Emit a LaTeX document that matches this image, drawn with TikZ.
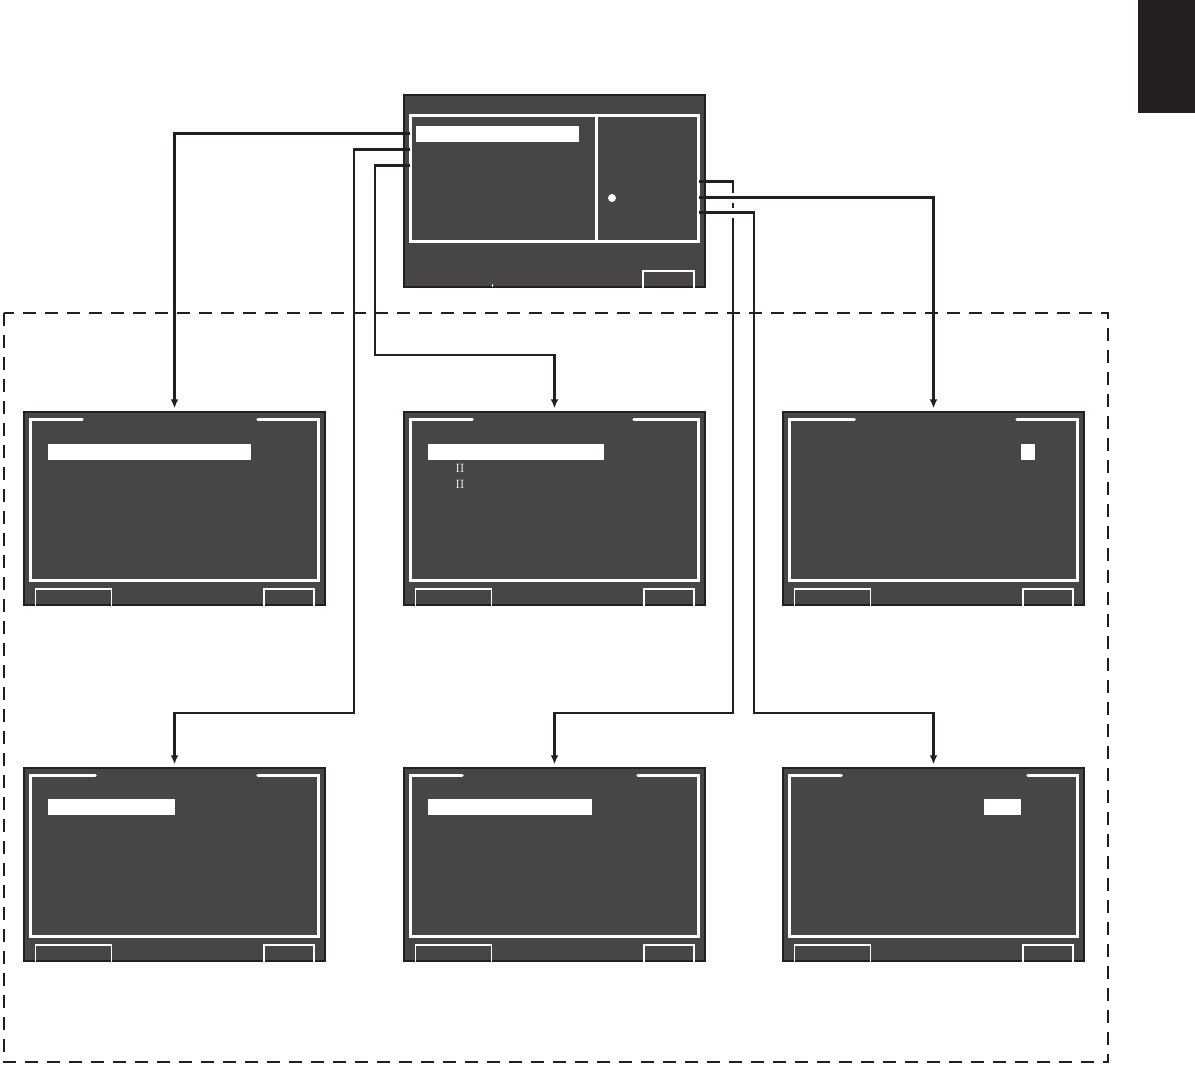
\documentclass[tikz,border=0pt]{standalone}
\usetikzlibrary{calc,arrows.meta}

\definecolor{ink}{HTML}{231F20}
\definecolor{screen}{HTML}{474546}

\tikzset{
  panel/.style={draw=ink, line width=1.5pt, fill=screen, inner sep=0pt,
    minimum width=301pt, minimum height=193pt},
  frame/.style={white, line width=3pt, line cap=round, line join=miter},
  softkey/.style={white, line width=1.5pt},
  link/.style={ink, line width=2.5pt, ->, shorten >=3pt},
  dashbox/.style={ink, line width=2.2pt, dash pattern=on 13pt off 9pt},
  glyph/.style={white, font=\fontsize{12}{12}\selectfont, inner sep=0pt},
}

% 画面の枠とボタン: #1 ノード名, #2 上辺左の長さ, #3 上辺右の長さ
\newcommand{\panelframe}[3]{%
  \draw[frame] ($(#1.north west)+(7+#2,8)$) -- ($(#1.north west)+(7,8)$)
    -- ($(#1.south west)+(7,-25)$) -- ($(#1.south east)+(-7,-25)$)
    -- ($(#1.north east)+(-7,8)$) -- ($(#1.north east)+(-7-#3,8)$);
  \draw[softkey] ($(#1.south west)+(12,0)$) |- ($(#1.south west)+(88,-17)$)
    -- ($(#1.south west)+(88,0)$);
  \draw[softkey] ($(#1.south east)+(-62,0)$) |- ($(#1.south east)+(-12,-17)$)
    -- ($(#1.south east)+(-12,0)$);
}

\begin{document}
\begin{tikzpicture}[x=1pt, y=-1pt, >={Latex[length=9pt,width=8pt]}]
    \useasboundingbox (0,0) rectangle (1195,1066);

    % 右上のタブ
    \fill[ink] (1138,0) rectangle (1195,113);

    % 破線の枠
    \draw[dashbox] (4,313) rectangle (1108,1062);

    % -------------------------------------------------------------
    % メイン画面
    % -------------------------------------------------------------
    \node[panel, minimum height=192pt] (main) at (554.5,191) {};
    \draw[frame] ($(main.north west)+(7,21)$) rectangle ($(main.south east)+(-7,-46)$);
    \draw[frame] (596,117) -- (596,240);
    \fill[white] (416,126) rectangle (579,142);
    \fill[white] (612,198) circle (4);
    \draw[softkey] ($(main.south east)+(-63,0)$) |- ($(main.south east)+(-12,-17)$)
      -- ($(main.south east)+(-12,0)$);
    \draw[white, line width=1pt] (492,284) -- (492,287);

    % -------------------------------------------------------------
    % 下の6画面
    % -------------------------------------------------------------
    \node[panel] (scrA) at (174.5,508.5) {};
    \node[panel] (scrB) at (554.5,508.5) {};
    \node[panel] (scrC) at (933.5,508.5) {};
    \node[panel] (scrD) at (174.5,864.5) {};
    \node[panel] (scrE) at (554.5,864.5) {};
    \node[panel] (scrF) at (933.5,864.5) {};

    \panelframe{scrA}{52}{61}
    \panelframe{scrB}{62}{65}
    \panelframe{scrC}{65}{61}
    \panelframe{scrD}{65}{61}
    \panelframe{scrE}{52}{61}
    \panelframe{scrF}{52}{50}

    % 選択バー
    \fill[white] ($(scrA.north west)+(25,33)$) rectangle ($(scrA.north west)+(228,49)$);
    \fill[white] ($(scrB.north west)+(25,33)$) rectangle ($(scrB.north west)+(201,49)$);
    \fill[white] ($(scrC.north west)+(239,33)$) rectangle ($(scrC.north west)+(253,49)$);
    \fill[white] ($(scrD.north west)+(25,32)$) rectangle ($(scrD.north west)+(152,48)$);
    \fill[white] ($(scrE.north west)+(25,32)$) rectangle ($(scrE.north west)+(189,48)$);
    \fill[white] ($(scrF.north west)+(202,32)$) rectangle ($(scrF.north west)+(239,48)$);
    \node[glyph] (markA) at (460,468) {II};
    \node[glyph] (markB) at (460,484) {II};

    % -------------------------------------------------------------
    % 接続線
    % -------------------------------------------------------------
    \coordinate (tapA) at ($(main.north west)+(7,39)$);
    \coordinate (tapB) at ($(main.north west)+(7,55)$);
    \coordinate (tapC) at ($(main.north west)+(7,71)$);
    \coordinate (tapD) at ($(main.north east)+(-7,87)$);
    \coordinate (tapE) at ($(main.north east)+(-7,103)$);
    \coordinate (tapF) at ($(main.north east)+(-7,118)$);
    \coordinate (bendB) at (354,713);
    \coordinate (bendC) at (375,355);
    \coordinate (bendD) at (733,713);
    \coordinate (bendF) at (754,713);

    \draw[link] (tapA) -| (scrA.north);
    \draw[link] (tapB) -| (bendB) -| (scrD.north);
    \draw[link] (tapC) -| (bendC) -| (scrB.north);
    \draw[link] (tapD) -| (bendD) -| (scrE.north);

    % 交差部分のすき間
    \fill[white] (729,193) rectangle (737,203);
    \fill[white] (729,208) rectangle (737,218);

    \draw[link] (tapE) -| (scrC.north);
    \draw[link] (tapF) -| (bendF) -| (scrF.north);

\end{tikzpicture}
\end{document}
